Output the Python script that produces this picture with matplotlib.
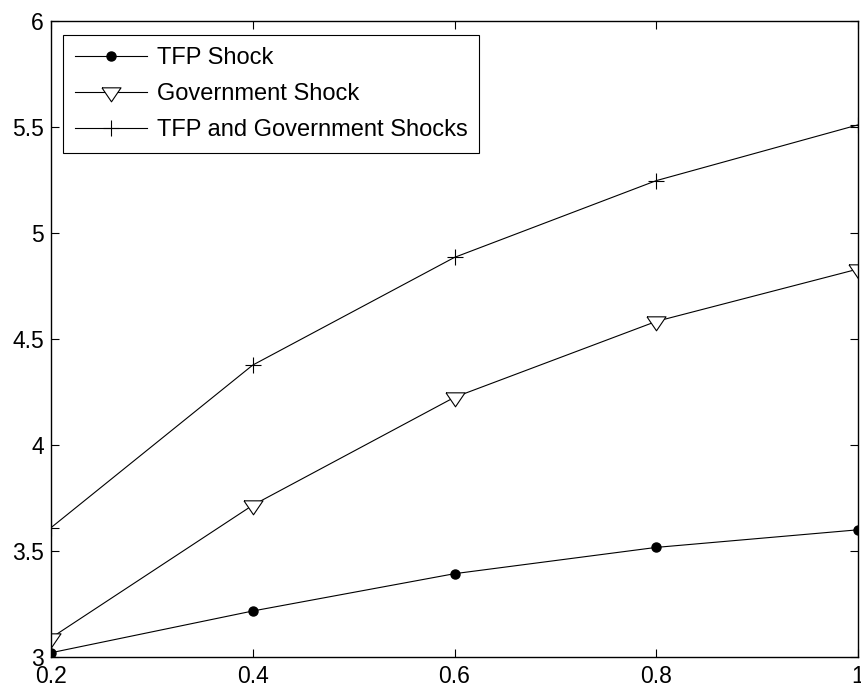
import numpy as np
import matplotlib.pyplot as plt

plt.rcParams['font.family'] = ['Liberation Sans', 'DejaVu Sans']

x = [0.2, 0.4, 0.6, 0.8, 1.0]
tfp = [3.02, 3.217, 3.393, 3.517, 3.60]
gov = [3.09, 3.716, 4.225, 4.583, 4.83]
both = [3.61, 4.377, 4.885, 5.247, 5.51]
labels = ["TFP Shock", "Government Shock", "TFP and Government Shocks"]

# matlab style downward triangle, point sits about a third from the top
tri = [(-1, 0.49), (1, 0.49), (0, -0.98), (-1, 0.49)]

fig = plt.figure(figsize=(8.62, 6.87), dpi=100)
ax = fig.add_axes([51/862, 30/687, 807/862, 636/687])

ax.plot(x, tfp, color='black', lw=0.8, marker='o', ms=6.5, mfc='black', mec='black', label=labels[0])
ax.plot(x, gov, color='black', lw=0.8, marker=tri, ms=13.7, mfc='white', mec='black', mew=0.8, label=labels[1])
ax.plot(x, both, color='black', lw=0.8, marker='+', ms=11, mec='black', mew=0.8, label=labels[2])

ax.set_xlim(0.2, 1.0)
ax.set_ylim(3, 6)
ax.set_xticks([0.2, 0.4, 0.6, 0.8, 1.0])
ax.set_xticklabels(['0.2', '0.4', '0.6', '0.8', '1'])
ax.set_yticks([3, 3.5, 4, 4.5, 5, 5.5, 6])
ax.set_yticklabels(['3', '3.5', '4', '4.5', '5', '5.5', '6'])
ax.tick_params(direction='in', top=True, right=True, length=6, width=0.8,
               labelsize=16.5)
ax.tick_params(axis='x', pad=6)
ax.tick_params(axis='y', pad=5)
for s in ax.spines.values():
    s.set_linewidth(1.0)

leg = ax.legend(loc='upper left', bbox_to_anchor=(0.0149, 0.978), borderaxespad=0,
                fontsize=17, handlelength=3.05, handletextpad=0.42, borderpad=0.5,
                labelspacing=0.6, fancybox=False, framealpha=1, edgecolor='black')
leg.get_frame().set_linewidth(0.8)

plt.savefig('out.png', dpi=100)
